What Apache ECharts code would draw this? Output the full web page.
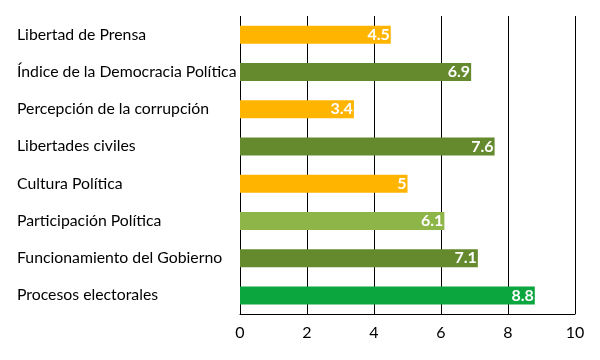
<!DOCTYPE html>
<html><head><meta charset="utf-8">
<script src="https://cdn.jsdelivr.net/npm/echarts@6/dist/echarts.min.js"></script>
<style>html,body{margin:0;padding:0;background:#fff}#c{width:600px;height:360px}</style>
</head><body><div id="c"></div>
<script>
const categories = ["Libertad de Prensa","Índice de la Democracia Política","Percepción de la corrupción","Libertades civiles","Cultura Política","Participación Política","Funcionamiento del Gobierno","Procesos electorales"];
const values = [4.5, 6.9, 3.4, 7.6, 5, 6.1, 7.1, 8.8];
const colors = ["#FFB400","#648A2D","#FFB400","#648A2D","#FFB400","#8DB547","#648A2D","#0CA63F"];
const xTicks = [0,2,4,6,8,10];
const font = "Lato, 'Open Sans', sans-serif";
const chart = echarts.init(document.getElementById('c'), null, {renderer:'canvas'});
chart.setOption({
  animation:false,
  grid:{left:240,right:25,top:16,bottom:46},
  xAxis:{type:'value',min:xTicks[0],max:xTicks[xTicks.length-1],interval:2,
    axisLine:{show:true,lineStyle:{color:'#000',width:1}},
    axisTick:{show:false},
    splitLine:{show:true,lineStyle:{color:'#000',width:1}},
    axisLabel:{color:'#000',fontSize:16,fontFamily:font,margin:11}},
  yAxis:{type:'category',data:categories,inverse:true,
    axisLine:{show:false},axisTick:{show:false},
    axisLabel:{color:'#000',fontSize:15.8,fontFamily:font,align:'left',margin:223,padding:[3,0,0,0]}},
  series:[{type:'bar',barWidth:18,
    data:values.map((v,i)=>({value:v,itemStyle:{color:colors[i]}})),
    label:{show:true,position:'insideRight',distance:1,color:'#fff',fontWeight:'bold',fontSize:16,fontFamily:font,padding:[2,0,0,0]}}]
});
</script></body></html>
